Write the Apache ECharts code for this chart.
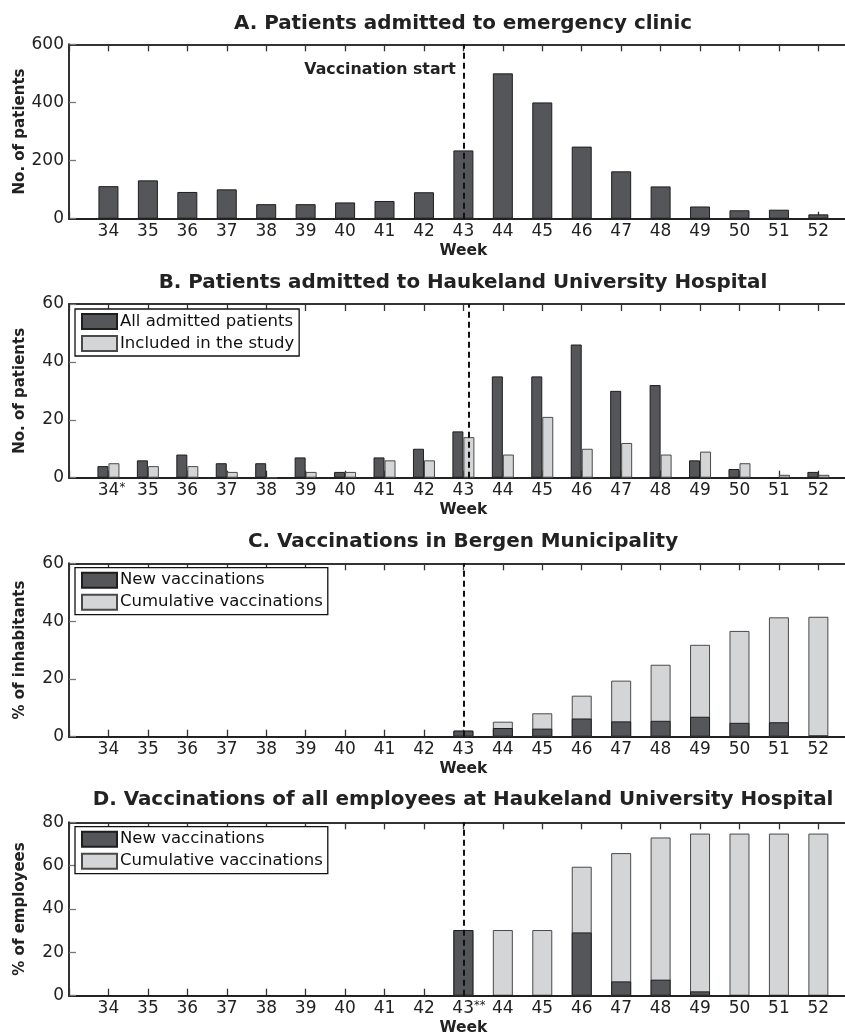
<!DOCTYPE html>
<html><head><meta charset="utf-8">
<script src="https://cdn.jsdelivr.net/npm/echarts/dist/echarts.min.js"></script>
<style>html,body{margin:0;padding:0;background:#fff}#c{width:845px;height:1034px}</style>
</head><body><div id="c"></div><script>
// ---------- data ----------
const weeks = [34,35,36,37,38,39,40,41,42,43,44,45,46,47,48,49,50,51,52];
const tickLabelsA = ['34','35','36','37','38','39','40','41','42','43','44','45','46','47','48','49','50','51','52'];
const tickLabelsB = ['34*','35','36','37','38','39','40','41','42','43','44','45','46','47','48','49','50','51','52'];
const tickLabelsC = ['34','35','36','37','38','39','40','41','42','43','44','45','46','47','48','49','50','51','52'];
const tickLabelsD = ['34','35','36','37','38','39','40','41','42','43**','44','45','46','47','48','49','50','51','52'];
const clinicAdmissions = [112,132,92,101,50,50,56,61,91,235,500,400,248,163,111,42,29,31,15];
const hospitalAll      = [4,6,8,5,5,7,2,7,10,16,35,35,46,30,32,6,3,0,2];
const hospitalIncluded = [5,4,4,2,0,2,2,6,6,14,8,21,10,12,8,9,5,1,1];
const bergenNew        = [0,0,0,0,0,0,0,0,0,2.1,3.0,2.8,6.3,5.3,5.5,6.9,4.8,5.0,0.4];
const bergenCumulative = [0,0,0,0,0,0,0,0,0,2.1,5.2,8.1,14.2,19.4,24.9,31.8,36.6,41.3,41.5];
const employeesNew        = [0,0,0,0,0,0,0,0,0,30.3,0,0,29.2,6.6,7.4,2.0,0,0,0];
const employeesCumulative = [0,0,0,0,0,0,0,0,0,30.3,30.3,30.3,59.5,65.8,73.0,74.8,74.8,74.8,74.8];
const vaccinationStartWeek = 43;
const yTicksA = [0,200,400,600];
const yTicksB = [0,20,40,60];
const yTicksC = [0,20,40,60];
const yTicksD = [0,20,40,60,80];

// ---------- styles ----------
const FONT = 'DejaVu Sans';
const DARK = {color:'#55565a', borderColor:'#1e1e1e', borderWidth:1};
const LIGHT = {color:'#d4d5d7', borderColor:'#4a4a4a', borderWidth:1};
const pairs = (arr) => weeks.map((w,i)=>[w,arr[i]]);

const panels = [
  {top:44.3, height:174.4, yTicks:yTicksA, yName:'No. of patients', title:'A. Patients admitted to emergency clinic', titleTop:11.5, labels:tickLabelsA},
  {top:304, height:173.7, yTicks:yTicksB, yName:'No. of patients', title:'B. Patients admitted to Haukeland University Hospital', titleTop:270.5, labels:tickLabelsB},
  {top:563.3, height:173.4, yTicks:yTicksC, yName:'% of inhabitants', title:'C. Vaccinations in Bergen Municipality', titleTop:529.5, labels:tickLabelsC},
  {top:822.3, height:173.4, yTicks:yTicksD, yName:'% of employees', title:'D. Vaccinations of all employees at Haukeland University Hospital', titleTop:787.5, labels:tickLabelsD}
];

const grids=[], xAxes=[], yAxes=[], titles=[];
panels.forEach((p,gi)=>{
  grids.push({left:69, width:788.8, top:p.top, height:p.height, containLabel:false, outerBoundsMode:'none'});
  titles.push({text:p.title, left:463, top:p.titleTop, textAlign:'center', padding:0,
    textStyle:{fontFamily:FONT, fontWeight:'bold', fontSize:19.9, color:'#222', lineHeight:24}});
  const labs = p.labels;
  xAxes.push({type:'value', gridIndex:gi, min:33, max:53, interval:1, position:'bottom',
    name:'Week', nameLocation:'middle', nameGap:24, nameMoveOverlap:false,
    nameTextStyle:{fontFamily:FONT, fontWeight:'bold', fontSize:15.5, color:'#222'},
    splitLine:{show:false},
    axisLine:{show:true, onZero:false, lineStyle:{color:'#222', width:2}},
    axisTick:{show:true, inside:true, length:7, lineStyle:{color:'#333', width:1.3}},
    axisLabel:{margin:4, fontFamily:FONT, fontSize:17, color:'#222',
      formatter:(v)=>{ const i=weeks.indexOf(v); if(i<0) return ''; const m=labs[i].match(/^(\d+)(\**)$/);
        if(!m[2]) return labs[i]; return '{n'+m[2].length+'|'+m[1]+'}{s|'+m[2]+'}'; },
      rich:{n1:{fontFamily:FONT, fontSize:17, color:'#222', padding:[0,0,0,6]},
            n2:{fontFamily:FONT, fontSize:17, color:'#222', padding:[0,0,0,11]},
            s:{fontFamily:FONT, fontSize:11.5, color:'#222', verticalAlign:'top', lineHeight:10}}}
  });
  yAxes.push({type:'value', gridIndex:gi, min:0, max:p.yTicks[p.yTicks.length-1], interval:p.yTicks[1]-p.yTicks[0],
    name:p.yName, nameLocation:'middle', nameGap:41, nameMoveOverlap:false,
    nameTextStyle:{fontFamily:FONT, fontWeight:'bold', fontSize:15, color:'#222'},
    splitLine:{show:false},
    axisLine:{show:true, lineStyle:{color:'#333', width:2}},
    axisTick:{show:true, inside:true, length:7, lineStyle:{color:'#777', width:1.3}},
    axisLabel:{margin:5, fontFamily:FONT, fontSize:17, color:'#222'}
  });
});
panels.forEach((p,gi)=>{
  xAxes.push({type:'value', gridIndex:gi, min:33, max:53, interval:1, position:'top',
    splitLine:{show:false}, axisLabel:{show:false},
    axisLine:{show:true, onZero:false, lineStyle:{color:'#333', width:2}},
    axisTick:{show:true, inside:true, length:7, lineStyle:{color:'#333', width:1.3}}});
});

const vline = {silent:true, symbol:['none','none'], label:{show:false},
  lineStyle:{color:'#111', width:2, type:[6,4]}, data:[{xAxis:vaccinationStartWeek}]};

const series = [
  {name:'Emergency clinic', type:'bar', xAxisIndex:0, yAxisIndex:0, barWidth:20, itemStyle:DARK, data:pairs(clinicAdmissions),
    markLine:vline,
    markPoint:{symbol:'circle', symbolSize:1, itemStyle:{color:'rgba(0,0,0,0)'},
      label:{show:true, position:'left', distance:7, formatter:'Vaccination start', fontFamily:FONT, fontWeight:'bold', fontSize:15.8, color:'#222'},
      data:[{coord:[vaccinationStartWeek, 512]}]}},
  {name:'All admitted patients', type:'bar', xAxisIndex:1, yAxisIndex:1, barWidth:11, barGap:'0%', itemStyle:DARK, data:pairs(hospitalAll)},
  {name:'Included in the study', type:'bar', xAxisIndex:1, yAxisIndex:1, barWidth:11, barGap:'0%', itemStyle:LIGHT, data:pairs(hospitalIncluded), markLine:vline},
  {name:'C_cum', type:'bar', xAxisIndex:2, yAxisIndex:2, barWidth:20, barGap:'-100%', itemStyle:LIGHT, data:pairs(bergenCumulative)},
  {name:'C_new', type:'bar', xAxisIndex:2, yAxisIndex:2, barWidth:20, barGap:'-100%', itemStyle:DARK, data:pairs(bergenNew), markLine:vline},
  {name:'D_cum', type:'bar', xAxisIndex:3, yAxisIndex:3, barWidth:20, barGap:'-100%', itemStyle:LIGHT, data:pairs(employeesCumulative)},
  {name:'D_new', type:'bar', xAxisIndex:3, yAxisIndex:3, barWidth:20, barGap:'-100%', itemStyle:DARK, data:pairs(employeesNew), markLine:vline}
];

const legendNames = {C_new:'New vaccinations', C_cum:'Cumulative vaccinations', D_new:'New vaccinations', D_cum:'Cumulative vaccinations'};
const legendBase = {orient:'vertical', left:75, icon:'rect', itemWidth:35, itemHeight:15, itemGap:5,
  padding:[4,5,4,6], backgroundColor:'#fff', borderColor:'#111', borderWidth:1.3, borderRadius:0,
  selectedMode:false, formatter:(n)=>legendNames[n]||n,
  textStyle:{fontFamily:FONT, fontSize:16.5, color:'#111', lineHeight:15, padding:[0,0,0,-2]}};
const legends = [
  Object.assign({}, legendBase, {top:309, data:['All admitted patients','Included in the study']}),
  Object.assign({}, legendBase, {top:567.7, data:['C_new','C_cum']}),
  Object.assign({}, legendBase, {top:826.7, data:['D_new','D_cum']})
];

const chart = echarts.init(document.getElementById('c'), null, {renderer:'canvas'});
chart.setOption({animation:false, backgroundColor:'#fff', title:titles, grid:grids, xAxis:xAxes, yAxis:yAxes, legend:legends, series:series});
</script></body></html>
